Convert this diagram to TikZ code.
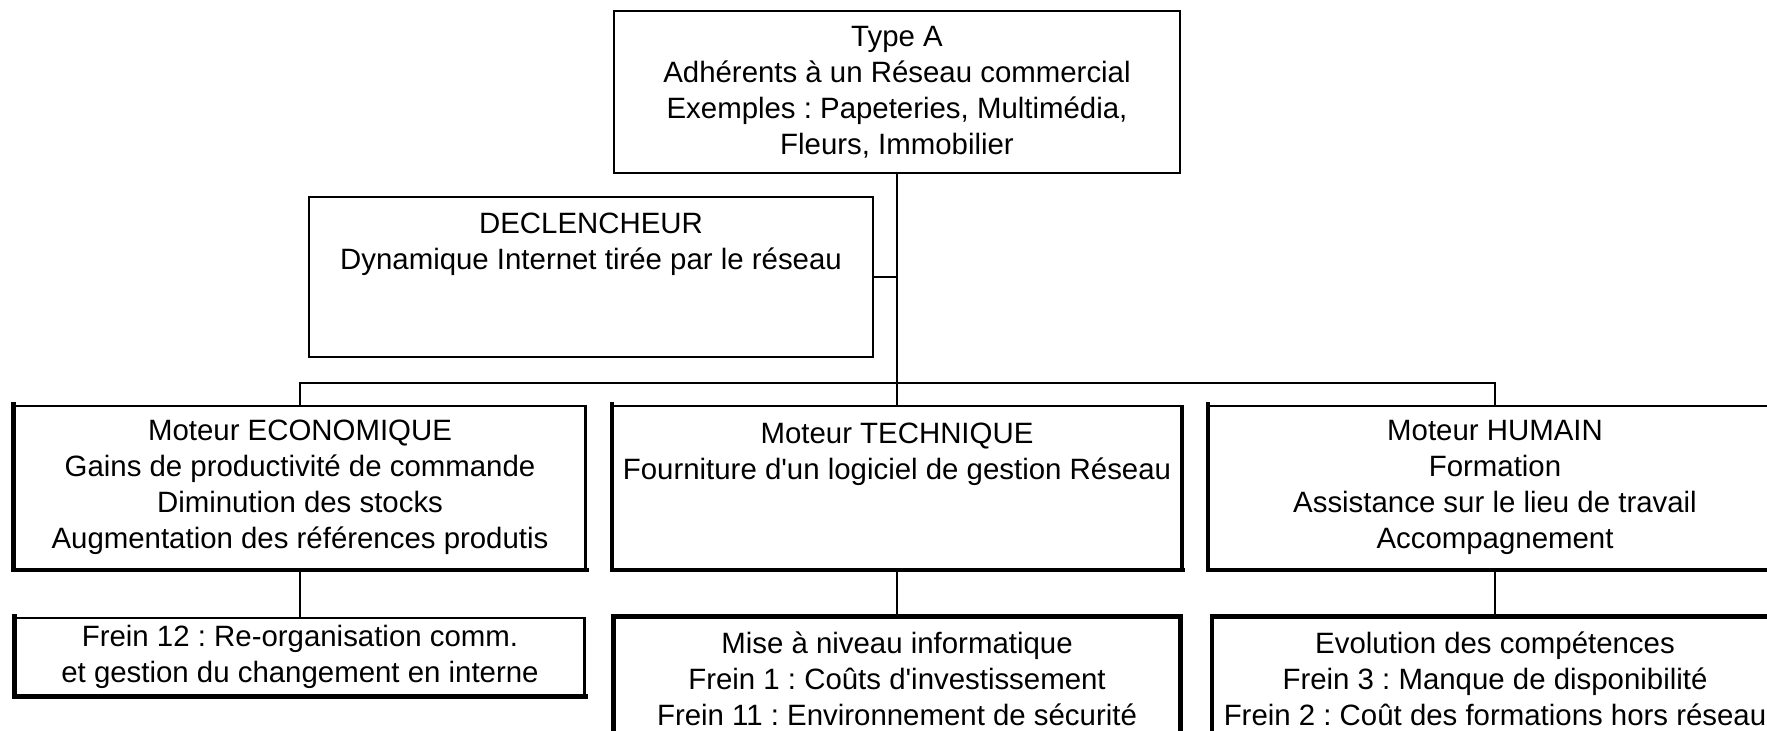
\documentclass[tikz,border=0pt]{standalone}
\usepackage{fontspec}
\setmainfont{Liberation Sans}
\frenchspacing
\begin{document}
\begin{tikzpicture}[x=0.5pt,y=-0.5pt,
  every node/.style={font=\fontsize{14.7}{18}\selectfont, align=center, inner sep=0pt},
  flatbox/.style={draw, line width=1pt, rectangle},
  raisedbox/.style={draw, line width=1.1pt, rectangle},
  link/.style={line width=1pt},
  heavy/.style={line width=2.4pt, line cap=rect}
]
\useasboundingbox (0,0) rectangle (1767,731);
\clip (0,0) rectangle (1767,731);

% top of the tree
\node[flatbox, minimum width=283pt, minimum height=81pt] (typeA) at (897,92)
  {Type A\\Adhérents à un Réseau commercial\\Exemples : Papeteries, Multimédia,\\Fleurs, Immobilier};
\node[flatbox, minimum width=282pt, minimum height=80pt] (decl) at (591,277)
  {DECLENCHEUR\\Dynamique Internet tirée par le réseau\\\mbox{}\\\mbox{}};

% the three drivers
\node[raisedbox, minimum width=285.5pt, minimum height=81.5pt] (eco) at (300,487.5)
  {Moteur ECONOMIQUE\\Gains de productivité de commande\\Diminution des stocks\\Augmentation des références produtis};
\node[raisedbox, minimum width=284pt, minimum height=81.5pt] (tech) at (897,487.5)
  {Moteur TECHNIQUE\\Fourniture d\textquotesingle un logiciel de gestion Réseau\\\mbox{}\\\mbox{}};
\node[raisedbox, minimum width=286pt, minimum height=81.5pt] (hum) at (1495,487.5)
  {Moteur HUMAIN\\Formation\\Assistance sur le lieu de travail\\Accompagnement};

% the brakes
\node[raisedbox, minimum width=284.5pt, minimum height=38.5pt] (f12) at (300,656.5)
  {Frein 12 : Re-organisation comm.\\et gestion du changement en interne};
\node[raisedbox, minimum width=282.5pt, minimum height=61pt] (mise) at (897,679)
  {Mise à niveau informatique\\Frein 1 : Coûts d\textquotesingle investissement\\Frein 11 : Environnement de sécurité};
\node[raisedbox, minimum width=282pt, minimum height=61pt] (evol) at (1495,679)
  {Evolution des compétences\\Frein 3 : Manque de disponibilité\\Frein 2 : Coût des formations hors réseau};

% heavy edges giving the raised look
\foreach \b in {eco,tech,hum,f12}
  \draw[heavy] (\b.north west) -- (\b.south west) -- (\b.south east);
\foreach \b in {tech,hum}
  \draw[line width=1.6pt] (\b.north east) -- (\b.south east);
\foreach \b in {mise,evol}
  \draw[heavy] (\b.south west) -- (\b.north west) -- (\b.north east) -- (\b.south east);

% connectors
\coordinate (bus) at (897,383);
\draw[link] (typeA.south) -- (bus);
\draw[link] (decl.east) -- (decl.east -| typeA.south);
\draw[link] (eco.north) |- (bus) -| (hum.north);
\draw[link] (bus) -- (tech.north);
\draw[link] (eco.south) -- (f12.north);
\draw[link] (tech.south) -- (mise.north);
\draw[link] (hum.south) -- (evol.north);
\end{tikzpicture}
\end{document}
